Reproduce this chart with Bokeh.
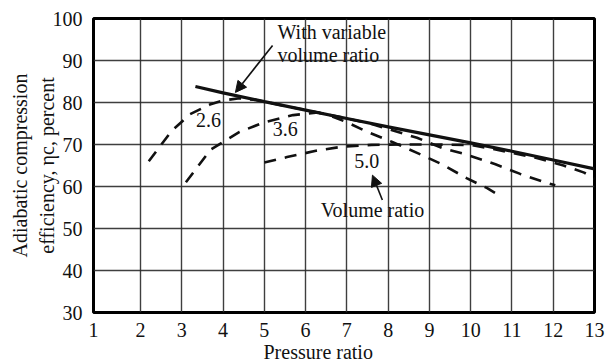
from bokeh.plotting import figure
from bokeh.models import Range1d, FixedTicker, Label, Arrow, NormalHead, Title
from bokeh.embed import file_html
from bokeh.resources import INLINE

# ---- data ----
x_first_tick = 0.861          # position of the "1" label (first interval is drawn wider)
x_ticks = [x_first_tick, 2, 3, 4, 5, 6, 7, 8, 9, 10, 11, 12, 13]
x_tick_labels = ["1", "2", "3", "4", "5", "6", "7", "8", "9", "10", "11", "12", "13"]
y_ticks = [30, 40, 50, 60, 70, 80, 90, 100]

variable_x = [3.33, 4, 5, 6, 7, 8, 9, 10, 11, 12, 13]
variable_y = [83.8, 82.3, 80.2, 78.2, 76.2, 74.2, 72.3, 70.4, 68.4, 66.3, 64.2]

vr26_x = [2.2, 2.75, 3.2, 3.7, 4.0, 4.4, 4.8, 5.5, 6.0, 6.5, 7.0, 7.5, 8.1, 8.7, 9.3, 9.9, 10.4, 10.65]
vr26_y = [66.0, 73.2, 77.2, 79.6, 80.5, 81.0, 80.6, 79.2, 78.2, 77.2, 75.3, 73.0, 70.6, 68.0, 65.3, 62.0, 59.6, 58.1]

vr36_x = [3.1, 3.7, 4.4, 5.0, 5.7, 6.3, 7.0, 7.6, 8.1, 8.7, 9.3, 9.9, 10.6, 11.2, 11.8, 12.05]
vr36_y = [61.0, 68.8, 73.0, 75.3, 77.0, 77.6, 76.2, 74.9, 73.4, 71.6, 69.2, 67.6, 65.3, 63.0, 61.0, 60.3]

vr50_x = [5.0, 5.55, 6.25, 6.9, 7.6, 8.3, 9.1, 10.0, 10.5, 11.0, 11.6, 12.25, 12.75, 13.0]
vr50_y = [65.7, 67.0, 68.5, 69.5, 69.9, 70.0, 70.0, 69.9, 69.0, 68.0, 66.8, 65.0, 63.3, 61.8]

FONT = "'Liberation Serif', 'Times New Roman', serif"
INK = "#111111"

p = figure(width=606, height=363, x_range=Range1d(x_first_tick, 13), y_range=Range1d(30, 100),
           output_backend="svg", toolbar_location=None, title=None,
           min_border_left=93, min_border_right=12, min_border_top=18, min_border_bottom=50)

p.background_fill_color = "white"
p.border_fill_color = "white"
p.outline_line_color = "black"
p.outline_line_width = 3
p.outline_line_alpha = 1.0

xax = p.xaxis[0]
yax = p.yaxis[0]
xax.ticker = FixedTicker(ticks=x_ticks)
yax.ticker = FixedTicker(ticks=y_ticks)
xax.major_label_overrides = {t: lab for t, lab in zip(x_ticks, x_tick_labels)}
p.xgrid[0].ticker = FixedTicker(ticks=x_ticks)
p.ygrid[0].ticker = FixedTicker(ticks=y_ticks)

for ax in (xax, yax):
    ax.axis_line_color = None
    ax.major_tick_line_color = None
    ax.minor_tick_line_color = None
    ax.major_label_text_font = FONT
    ax.major_label_text_font_size = "20px"
    ax.major_label_text_font_style = "normal"
    ax.major_label_text_color = INK
    ax.axis_label_text_font = FONT
    ax.axis_label_text_font_size = "20px"
    ax.axis_label_text_font_style = "normal"
    ax.axis_label_text_color = INK

xax.major_label_standoff = 4
yax.major_label_standoff = 5
yax.axis_label_standoff = -8
yax.axis_label = "Adiabatic compression\nefficiency, \u03b7c, percent"

# x-axis title, placed below the tick labels and shifted left as in the reference
p.add_layout(Title(text="Pressure ratio", align="left", offset=170, standoff=0,
                   text_font=FONT, text_font_size="20px", text_font_style="normal",
                   text_color=INK, vertical_align="middle"), "below")

for g in (p.xgrid[0], p.ygrid[0]):
    g.grid_line_color = "#2a2a2a"
    g.grid_line_width = 1.4
    g.grid_line_alpha = 0.9

p.line(variable_x, variable_y, line_color=INK, line_width=3.2)
for xs, ys in ((vr26_x, vr26_y), (vr36_x, vr36_y), (vr50_x, vr50_y)):
    p.line(xs, ys, line_color=INK, line_width=2.6, line_dash="12 9")

def lab(x, y, text, align="center"):
    p.add_layout(Label(x=x, y=y, text=text, text_font=FONT, text_font_size="20px",
                       text_color=INK, text_align=align, text_baseline="middle"))

lab(5.32, 96.7, "With variable", align="left")
lab(5.32, 91.2, "volume ratio", align="left")
lab(3.65, 75.8, "2.6")
lab(5.51, 73.7, "3.6")
lab(7.48, 66.1, "5.0")
lab(7.62, 54.4, "Volume ratio")

p.add_layout(Arrow(x_start=5.2, y_start=93.6, x_end=4.3, y_end=82.4, line_color=INK, line_width=1.6,
                   end=NormalHead(size=11, fill_color=INK, line_color=INK)))
p.add_layout(Arrow(x_start=7.86, y_start=56.8, x_end=7.62, y_end=62.7, line_color=INK, line_width=1.6,
                   end=NormalHead(size=11, fill_color=INK, line_color=INK)))

open("out.html", "w").write(file_html(p, INLINE))
